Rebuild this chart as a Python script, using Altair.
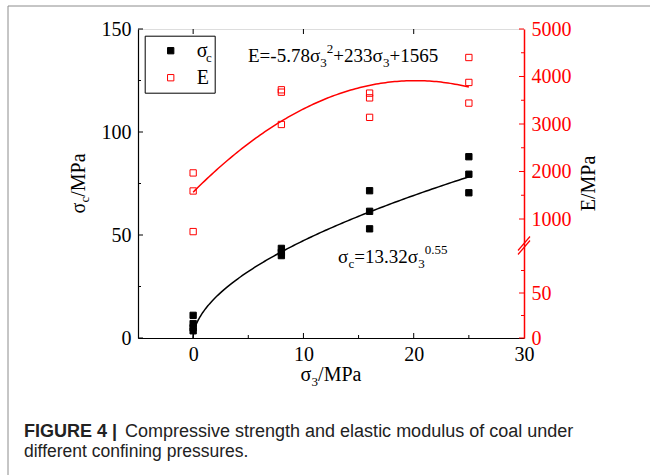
import altair as alt
import pandas as pd
import numpy as np

# ---------------- data ----------------
sc_x = [0, 0, 0, 0, 8, 8, 8, 16, 16, 16, 25, 25, 25]
sc_v = [11.0, 7.0, 5.0, 3.5, 43.5, 41.5, 40.0, 71.5, 61.5, 53.0, 88.0, 79.5, 70.5]
E_x = [0, 0, 0, 8, 8, 8, 16, 16, 16, 25, 25, 25]
E_v = [1970, 1590, 735, 3720, 3670, 2990, 3650, 3550, 3140, 4400, 3875, 3440]

# fitted equations printed on the figure
sc_coef = (13.32, 0.55)
E_coef = (-5.78, 233.0, 1565.0)
fit_xmax = 25

x_ticks = [0, 10, 20, 30]
x_minor = [5, 15, 25]
top_ticks = [0, 10, 20]
left_ticks = [0, 50, 100, 150]
left_minor = [25, 75, 125]
right_ticks = [0, 50, 1000, 2000, 3000, 4000, 5000]
right_minor = [25, 75, 1500, 2500, 3500, 4500]
series_names = ["σ", "E"]

# ---------------- layout ----------------
W, H = 386, 309
SERIF = "Liberation Serif"
SANS = "Liberation Sans"
RED = "#ff0000"

t = np.linspace(0, 1, 160)
xs_sc = fit_xmax * t ** 2
xs_E = np.linspace(0, fit_xmax, 120)
sc_curve = pd.DataFrame({"x": xs_sc, "v": sc_coef[0] * xs_sc ** sc_coef[1]})
E_curve = pd.DataFrame({"x": xs_E, "v": E_coef[0] * xs_E ** 2 + E_coef[1] * xs_E + E_coef[2]})
sc_df = pd.DataFrame({"x": sc_x, "v": sc_v, "series": series_names[0]})
E_df = pd.DataFrame({"x": E_x, "v": E_v, "series": series_names[1]})
one = pd.DataFrame({"a": [0]})

axX = alt.Axis(values=x_ticks, ticks=False, tickSize=0, labelPadding=6, labelFont=SERIF,
               labelFontSize=20, labelColor="black", domainColor="black", domainWidth=1.2,
               grid=False, labelFlush=False, labelOverlap=False, format="d", title=None)
xEnc = alt.X("x:Q", scale=alt.Scale(domain=[-5, 30], nice=False, zero=False), axis=axX, title=None)

axL = alt.Axis(orient="left", values=left_ticks, ticks=False, tickSize=0, labelPadding=7,
               labelFont=SERIF, labelFontSize=20, labelColor="black", domainColor="black",
               domainWidth=1.2, grid=False, labelOverlap=False, format="d", title=None)
yL = alt.Y("v:Q", scale=alt.Scale(domain=[0, 150], nice=False, zero=False), axis=axL, title=None)

axR = alt.Axis(orient="right", values=right_ticks, ticks=False, tickSize=0, labelPadding=7,
               labelFont=SERIF, labelFontSize=20, labelColor=RED, domainColor=RED,
               domainWidth=1.5, grid=False, labelOverlap=False, format="d", title=None)
scaleR = alt.Scale(domain=[0, 100, 500, 5000], range=[H, 219, 213.75, 0], nice=False, zero=False)
yR = alt.Y("v:Q", scale=scaleR, axis=axR, title=None)

leg = alt.Legend(title=None, orient="none", legendX=6.7, legendY=6.7, symbolType="square",
                 symbolSize=40, symbolStrokeWidth=1, labelFont=SERIF, labelFontSize=20,
                 labelColor="black", padding=5, rowPadding=7, symbolOffset=11, labelOffset=16,
                 strokeColor="black", labelLimit=0)
fillEnc = alt.Fill("series:N", scale=alt.Scale(domain=series_names, range=["black", "transparent"]), legend=leg)
strokeEnc = alt.Stroke("series:N", scale=alt.Scale(domain=series_names, range=["black", RED]), legend=leg)

# left group
sc_pts = alt.Chart(sc_df).mark_point(shape="square", size=40, filled=True, strokeWidth=1, opacity=1).encode(
    x=xEnc, y=yL, fill=fillEnc, stroke=strokeEnc)
sc_line = alt.Chart(sc_curve).mark_line(color="black", strokeWidth=1.5).encode(x=xEnc, y=yL)
l_major = alt.Chart(pd.DataFrame({"v": left_ticks})).mark_rule(color="black").encode(
    y=yL, x=alt.value(0), x2=alt.value(5))
l_minor = alt.Chart(pd.DataFrame({"v": left_minor})).mark_rule(color="black").encode(
    y=yL, x=alt.value(0), x2=alt.value(3))
b_major = alt.Chart(pd.DataFrame({"x": x_ticks[:-1]})).mark_rule(color="black").encode(
    x=xEnc, y=alt.value(H), y2=alt.value(H - 5))
b_minor = alt.Chart(pd.DataFrame({"x": x_minor})).mark_rule(color="black").encode(
    x=xEnc, y=alt.value(H), y2=alt.value(H - 3))
t_major = alt.Chart(pd.DataFrame({"x": top_ticks})).mark_rule(color="black").encode(
    x=xEnc, y=alt.value(0), y2=alt.value(5))
left = alt.layer(sc_line, sc_pts, l_major, l_minor, b_major, b_minor, t_major)

# right group
E_line = alt.Chart(E_curve).mark_line(color=RED, strokeWidth=1.5).encode(x=xEnc, y=yR)
E_pts = alt.Chart(E_df).mark_point(shape="square", size=40, filled=True, strokeWidth=1, opacity=1).encode(
    x=xEnc, y=yR, fill=fillEnc, stroke=strokeEnc)
r_major = alt.Chart(pd.DataFrame({"v": right_ticks})).mark_rule(color=RED).encode(
    y=yR, x=alt.value(W - 5), x2=alt.value(W))
r_minor = alt.Chart(pd.DataFrame({"v": right_minor})).mark_rule(color=RED).encode(
    y=yR, x=alt.value(W - 3), x2=alt.value(W))
right = alt.layer(E_line, E_pts, r_major, r_minor)

# ---------------- annotations ----------------
WID = {'.': 0.25, '=': 0.564, '+': 0.564, '-': 0.333, 'E': 0.611, 'σ': 0.55, 'c': 0.444,
       '/': 0.278, 'M': 0.889, 'P': 0.556, 'a': 0.444}


def tw(s, size):
    return sum(WID.get(ch, 0.5) for ch in s) * size


def txt(s, px, py, size, color="black", font=SERIF, weight="normal", angle=0, align="left"):
    return alt.Chart(one).mark_text(text=s, font=font, fontSize=size, fontWeight=weight, color=color,
                                    align=align, baseline="alphabetic", angle=angle).encode(
        x=alt.value(px), y=alt.value(py))


def seq(pieces, x0, y0, base, small, sub_dy=4.5, sup_dy=-9):
    out, x = [], x0
    for s, k in pieces:
        fs = base if k == "n" else small
        dy = 0 if k == "n" else (sub_dy if k == "sub" else sup_dy)
        out.append(txt(s, x, y0 + dy, fs))
        x += tw(s, fs)
    return out


def seq_rot(pieces, xb, y_center, base, small, sub_d=4):
    total = sum(tw(s, base if k == "n" else small) for s, k in pieces)
    y = y_center + total / 2
    out = []
    for s, k in pieces:
        fs = base if k == "n" else small
        out.append(txt(s, xb + (sub_d if k == "sub" else 0), y, fs, angle=270))
        y -= tw(s, fs)
    return out


annots = []
annots += seq([("E=-5.78σ", "n"), ("3", "sub"), ("2", "sup"), ("+233σ", "n"), ("3", "sub"), ("+1565", "n")],
              110, 33, 19, 13)
annots += seq([("σ", "n"), ("c", "sub"), ("=13.32σ", "n"), ("3", "sub"), ("0.55", "sup")],
              200, 234, 19, 13, sub_dy=5, sup_dy=-9.5)
xt = [("σ", "n"), ("3", "sub"), ("/MPa", "n")]
annots += seq(xt, W / 2 - sum(tw(s, 20 if k == "n" else 13) for s, k in xt) / 2, 352, 20, 13, sub_dy=5)
annots += seq_rot([("σ", "n"), ("c", "sub"), ("/MPa", "n")], -53, H / 2, 20, 13)
annots.append(txt("E/MPa", W + 71, H / 2, 20, angle=270, align="center"))
annots.append(txt("c", 68, 32.5, 13))
annots.append(txt("FIGURE 4 |", -114, 408, 18, color="#222222", font=SANS, weight="bold"))
annots.append(txt("Compressive strength and elastic modulus of coal under", -13, 408, 18, color="#222222", font=SANS))
annots.append(txt("different confining pressures.", -114, 427.5, 17.5, color="#222222", font=SANS))

brk1 = alt.Chart(one).mark_rule(color=RED, strokeWidth=1.2).encode(
    x=alt.value(W - 6), x2=alt.value(W + 6), y=alt.value(214.5 + 7), y2=alt.value(214.5 - 7))
brk2 = alt.Chart(one).mark_rule(color=RED, strokeWidth=1.2).encode(
    x=alt.value(W - 6), x2=alt.value(W + 6), y=alt.value(218.5 + 7), y2=alt.value(218.5 - 7))
border = alt.Chart(one).mark_rect(fill="transparent", stroke="#8c8c8c", strokeWidth=1).encode(
    x=alt.value(-130), x2=alt.value(W + 300), y=alt.value(-23), y2=alt.value(H + 300))

chart = alt.layer(border, left, right, brk1, brk2, *annots).resolve_scale(y="independent").properties(
    width=W, height=H, autosize="none",
    padding={"left": 138, "top": 29, "right": 650 - 138 - W, "bottom": 475 - 29 - H},
).configure_view(stroke="black", strokeWidth=1.2).configure(background="white")

chart.save("out.html", embed_options={"renderer": "svg", "actions": False})
